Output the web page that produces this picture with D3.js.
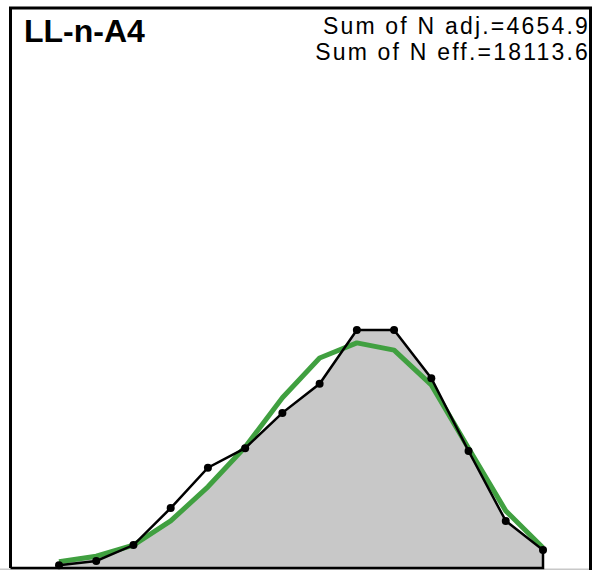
<!DOCTYPE html>
<html>
<head>
<meta charset="utf-8">
<script src="https://cdn.jsdelivr.net/npm/d3@7"></script>
<style>
  body { margin: 0; background: #fff; }
  svg { display: block; }
</style>
</head>
<body>
<div class="chart"></div>
<script>

  var bins = [1, 2, 3, 4, 5, 6, 7, 8, 9, 10, 11, 12, 13, 14];

  // observed proportions (black line with dots)
  var observed = [0.5, 1.25, 4.1, 10.7, 17.9, 21.4, 27.7, 32.9, 42.5, 42.5, 33.9, 20.9, 8.4, 3.2];

  // model fit (green line)
  var fitted = [1.1, 2.1, 4.1, 8.4, 14.5, 21.6, 30.4, 37.5, 40.2, 38.9, 32.7, 21.4, 10.2, 3.6];

  // shaded polygon
  var shaded = [1.1, 2.1, 4.1, 8.4, 14.5, 21.4, 27.7, 32.9, 42.5, 42.5, 33.9, 20.9, 8.4, 3.2];

  var title = "LL-n-A4";
  var notes = ["Sum of N adj.=4654.9", "Sum of N eff.=18113.6"];

  var width = 592, height = 570;

  var svg = d3.select(".chart").append("svg")
      .attr("width", width)
      .attr("height", height);

  var x = d3.scaleLinear()
    .domain([d3.min(bins), d3.max(bins)])
    .range([59, 543]);

  var y = d3.scaleLinear()
    .domain([0, 100])
    .range([568, 8]);

  //gray polygon down to the baseline

  var area = d3.area()
    .x(function(d, i) { return x(bins[i]); })
    .y0(y(0))
    .y1(function(d) { return y(d); });

  svg.append("path")
    .datum(shaded)
    .attr("d", area)
    .attr("fill", "#c8c8c8");

  // light baseline strip at the very bottom
  svg.append("line")
    .attr("x1", 0)
    .attr("x2", width)
    .attr("y1", y(0) + 1.5)
    .attr("y2", y(0) + 1.5)
    .attr("stroke", "#c8c8c8")
    .attr("stroke-width", 2);

  var line = d3.line()
    .x(function(d, i) { return x(bins[i]); })
    .y(function(d) { return y(d); });

  svg.append("path")
    .datum(fitted)
    .attr("d", line)
    .attr("fill", "none")
    .attr("stroke", "#40a040")
    .attr("stroke-width", 5)
    .attr("stroke-linejoin", "round");

  // observed line, closed down to the baseline on the right
  var obsPts = observed.map(function(d, i) { return [x(bins[i]), y(d)]; });
  obsPts.push([x(d3.max(bins)), y(0)]);
  obsPts.push([10.5, y(0)]);

  svg.append("path")
    .attr("d", d3.line()(obsPts))
    .attr("fill", "none")
    .attr("stroke", "#000")
    .attr("stroke-width", 2.5);

  svg.selectAll("circle")
      .data(observed)
    .enter().append("circle")
      .attr("cx", function(d, i) { return x(bins[i]); })
      .attr("cy", function(d) { return y(d); })
      .attr("r", 4)
      .attr("fill", "#000");

  // frame: left, top, right
  svg.append("path")
    .attr("d", "M10.5," + y(0) + "V" + 8 + "H590.5V" + height)
    .attr("fill", "none")
    .attr("stroke", "#000")
    .attr("stroke-width", 3);

  svg.append("text")
    .attr("x", 24)
    .attr("y", 42)
    .attr("font-family", "Liberation Sans, Arial, sans-serif")
    .attr("font-weight", "bold")
    .attr("font-size", 32)
    .attr("fill", "#000")
    .text(title);

  svg.selectAll(".note")
      .data(notes)
    .enter().append("text")
      .attr("class", "note")
      .attr("x", 590)
      .attr("y", function(d, i) { return 34 + i * 26; })
      .attr("text-anchor", "end")
      .attr("font-family", "Liberation Sans, Arial, sans-serif")
      .attr("font-size", 23)
      .attr("letter-spacing", 2.2)
      .attr("fill", "#000")
      .text(function(d) { return d; });

</script>
</body>
</html>
